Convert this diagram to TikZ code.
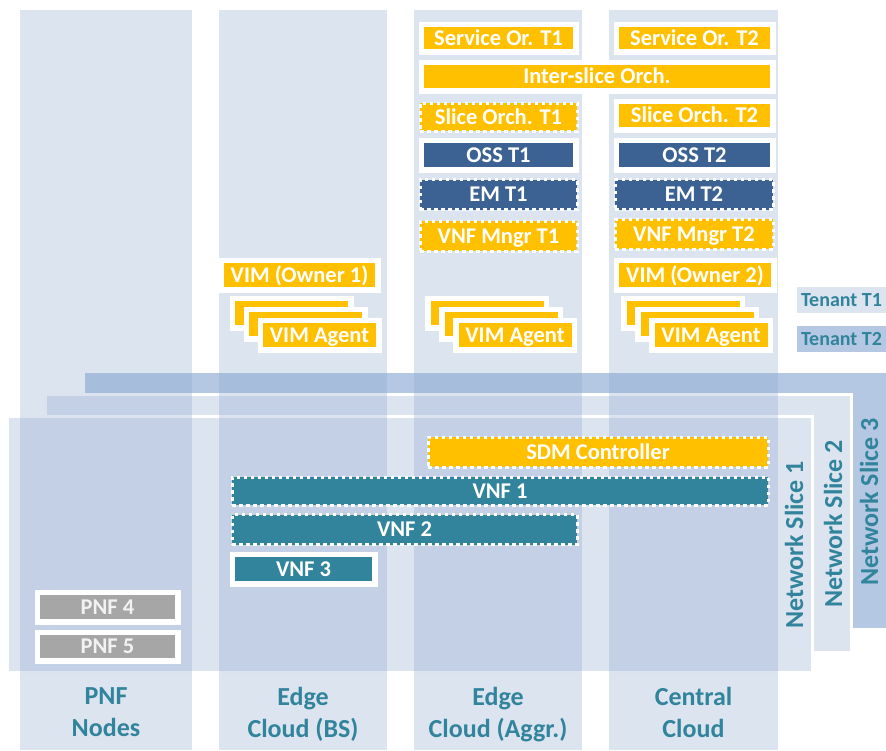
\documentclass[tikz,border=0pt]{standalone}
\usepackage{fontspec}
\setmainfont{Carlito}
\usepackage{tikz}
\definecolor{SliceGold}{HTML}{FFC000}
\definecolor{SliceNavy}{HTML}{3B6293}
\definecolor{SliceTeal}{HTML}{31849B}
\definecolor{SliceGrey}{HTML}{A6A6A6}
\definecolor{SliceLight}{HTML}{DCE4F0}
\definecolor{SliceDeep}{HTML}{B4C8E3}
\definecolor{SliceColumn}{HTML}{8AA5CD}
\tikzset{
  sitecol/.style={fill=SliceColumn,fill opacity=0.3},
  slicearea/.style={fill=SliceLight,draw=white,line width=3pt},
  boxbase/.style={inner sep=0pt,minimum height=24pt,text height=16.5pt,text depth=2.5pt,text=white,font=\fontsize{22.5}{24}\selectfont\bfseries},
  whiteframe/.style={preaction={draw=white,line width=11pt}},
  dashframe/.style={minimum height=30pt,postaction={draw=white,line width=3pt,dash pattern=on 3.5pt off 3.5pt}},
  goldbox/.style={boxbase,fill=SliceGold},
  navybox/.style={boxbase,fill=SliceNavy},
  tealbox/.style={boxbase,fill=SliceTeal},
  greybox/.style={boxbase,fill=SliceGrey,text=white!95!black},
  tenant/.style={inner sep=0pt,minimum width=89pt,minimum height=26pt,text=SliceTeal,font=\fontsize{20}{22}\selectfont\bfseries},
  sitelabel/.style={anchor=north,align=center,text=SliceTeal,font=\fontsize{26}{32}\selectfont\bfseries,execute at begin node=\strut},
  slicelabel/.style={rotate=90,inner sep=0pt,text=SliceTeal,font=\fontsize{26}{30}\selectfont\bfseries}
}

\begin{document}
\begin{tikzpicture}[x=1pt,y=-1pt]
  \useasboundingbox (0,0) rectangle (886,750);
  \fill[SliceDeep] (85,373) rectangle (886,628);
  \draw[slicearea] (45,394) rectangle (851,652);
  \draw[slicearea] (7,416) rectangle (812,672);
  \foreach \xa/\xb in {20/192,219/387,414/582,609/778}
    \fill[sitecol] (\xa,10) rectangle (\xb,750);

  \node[goldbox,whiteframe,minimum width=149pt,minimum height=22pt] (servT1) at (498.5,38) {Service Or. T1};
  \node[goldbox,whiteframe,minimum width=151pt,minimum height=22pt] (servT2) at (694.5,38) {Service Or. T2};
  \node[goldbox,whiteframe,minimum width=346pt,minimum height=23pt] (interOrch) at (597,76.5) {Inter-slice Orch.};
  \node[goldbox,dashframe,minimum width=157pt,minimum height=28pt] (sliceOrchT1) at (498.5,117) {Slice Orch. T1};
  \node[goldbox,whiteframe,minimum width=151pt,minimum height=23pt] (sliceOrchT2) at (694.5,115.5) {Slice Orch. T2};
  \node[navybox,whiteframe,minimum width=149pt] (ossT1) at (498.5,155) {OSS T1};
  \node[navybox,whiteframe,minimum width=151pt] (ossT2) at (694.5,155) {OSS T2};
  \node[navybox,dashframe,minimum width=157pt] (emT1) at (498.5,194.5) {EM T1};
  \node[navybox,dashframe,minimum width=158pt] (emT2) at (694,194.5) {EM T2};
  \node[goldbox,dashframe,minimum width=157pt] (vnfmT1) at (498.5,236) {VNF Mngr T1};
  \node[goldbox,dashframe,minimum width=158pt] (vnfmT2) at (694,234) {VNF Mngr T2};

  \node[goldbox,whiteframe,minimum width=151pt] (vimOwnerA) at (299.5,275) {VIM (Owner 1)};
  \node[goldbox,whiteframe,minimum width=152pt] (vimOwnerB) at (695,275) {VIM (Owner 2)};

  \foreach \cx/\site in {319.5/bs,515/aggr,711/core} {
    \node[goldbox,whiteframe,minimum width=113pt] (agentC\site) at (\cx-28,313) {};
    \node[goldbox,whiteframe,minimum width=113pt] (agentB\site) at (\cx-14,324) {};
    \node[goldbox,whiteframe,minimum width=113pt] (agentA\site) at (\cx,335) {VIM Agent};
  }

  \node[tenant,fill=SliceLight] (tenantT1) at (841.5,300) {Tenant T1};
  \node[tenant,fill=SliceDeep] (tenantT2) at (841.5,339) {Tenant T2};

  \node[goldbox,dashframe,minimum width=340pt] (sdm) at (598,452) {SDM Controller};
  \node[tealbox,dashframe,minimum width=536pt,minimum height=28pt] (vnfA) at (500,491) {VNF 1};
  \node[tealbox,dashframe,minimum width=345pt] (vnfB) at (404.5,529.5) {VNF 2};
  \node[tealbox,whiteframe,minimum width=137pt] (vnfC) at (303.5,569) {VNF 3};
  \node[greybox,whiteframe,minimum width=135pt] (pnfD) at (107.5,607) {PNF 4};
  \node[greybox,whiteframe,minimum width=135pt,minimum height=23pt] (pnfE) at (107.5,646.5) {PNF 5};

  \node[slicelabel] (sliceA) at (794,545) {Network Slice 1};
  \node[slicelabel] (sliceB) at (833,524) {Network Slice 2};
  \node[slicelabel] (sliceC) at (869,502) {Network Slice 3};

  \node[sitelabel] (sitePnf) at (106,684) {PNF\\Nodes};
  \node[sitelabel] (siteBs) at (303,684) {Edge\\Cloud (BS)};
  \node[sitelabel] (siteAggr) at (498,684) {Edge\\Cloud (Aggr.)};
  \node[sitelabel] (siteCore) at (693.5,684) {Central\\Cloud};
\end{tikzpicture}
\end{document}
